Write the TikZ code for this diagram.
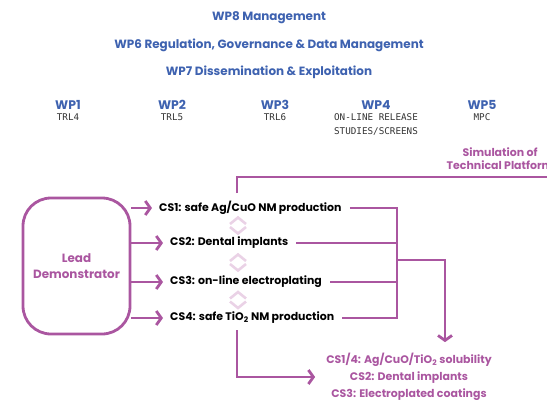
\documentclass[tikz,border=0pt]{standalone}
\usepackage{fontspec}
\setmainfont{Poppins}
\newfontfamily\trlfont{DejaVu Sans Mono}
\usetikzlibrary{arrows.meta,positioning}

\definecolor{wpblue}{RGB}{62,98,176}
\definecolor{csviolet}{RGB}{170,86,160}
\definecolor{zigpink}{RGB}{234,210,230}

\tikzset{
  head/.style={text=wpblue, font=\bfseries\fontsize{12}{14}\selectfont},
  wp/.style={text=wpblue, inner sep=0pt, font=\bfseries\fontsize{12.5}{14}\selectfont},
  trl/.style={text=black!80, inner sep=0pt, align=center, font=\trlfont\fontsize{9.3}{13.5}\selectfont},
  cs/.style={anchor=west, inner sep=0pt, font=\bfseries\fontsize{11}{12}\selectfont},
  pinklabel/.style={text=csviolet, inner sep=0pt, align=center, font=\bfseries\fontsize{11}{13}\selectfont},
  leadbox/.style={draw=csviolet, line width=2.8bp, rounded corners=28bp, text=csviolet,
    align=center, font=\bfseries\fontsize{12}{16}\selectfont},
  flow/.style={draw=csviolet, line width=2.8bp},
  flowtip/.style={-{Straight Barb[length=5bp,width=14bp]}},
  zig/.style={draw=zigpink, line width=2.6bp},
}

\begin{document}
\begin{tikzpicture}[x=1bp, y=-1bp]
\useasboundingbox (0,0) rectangle (547,401);

% cross-cutting work packages
\node[head] (wp8) at (269,18) {WP8 Management};
\node[head] (wp6) at (269,45) {WP6 Regulation, Governance \& Data Management};
\node[head] (wp7) at (269,72) {WP7 Dissemination \& Exploitation};

% work packages along the TRL scale
\node[wp] (wp1) at (68,105) {WP1};
\node[wp] (wp2) at (172,105) {WP2};
\node[wp] (wp3) at (275,105) {WP3};
\node[wp] (wp4) at (376,105) {WP4};
\node[wp] (wp5) at (482,105) {WP5};
\node[trl, below=4bp of wp1] (trl1) {TRL4};
\node[trl, below=4bp of wp2] (trl2) {TRL5};
\node[trl, below=4bp of wp3] (trl3) {TRL6};
\node[trl, below=4bp of wp4] (trl4) {ON-LINE RELEASE\\STUDIES/SCREENS};
\node[trl, below=4bp of wp5] (trl5) {MPC};

\node[pinklabel] (sim) at (500,159) {Simulation of\\Technical Platform};

% demonstrator and case studies
\node[leadbox, minimum width=107bp, minimum height=136bp] (lead) at (76.5,266) {Lead\\Demonstrator};

\node[cs] (cs1) at (159,208) {CS1: safe Ag/CuO NM production};
\node[cs] (cs2) at (170,243) {CS2: Dental implants};
\node[cs] (cs3) at (170,282) {CS3: on-line electroplating};
\node[cs] (cs4) at (170,318) {CS4: safe TiO\textsubscript{2} NM production};

\node[pinklabel, font=\bfseries\fontsize{11}{17}\selectfont] (results) at (409,377)
  {CS1/4: Ag/CuO/TiO\textsubscript{2} solubility\\CS2: Dental implants\\CS3: Electroplated coatings};

\coordinate (tap) at (237,0);
\coordinate (bar) at (397,260);
\coordinate (drop) at (445,260);
\coordinate (simrail) at (560,177);

\foreach \c in {cs1,cs2,cs3,cs4}
  \draw[flow, flowtip, shorten >=7bp] (lead.east |- \c.west) -- (\c.west);

% links between the case studies
\foreach \y in {225.5,262.5,300} {
  \draw[zig] (230,\y-1.5) -- (238,\y-8) -- (246,\y-1.5);
  \draw[zig] (230,\y+1.5) -- (238,\y+8) -- (246,\y+1.5);
}

% collect CS1-CS4 into the results
\draw[flow] ([xshift=8bp]cs1.east) -| (bar |- cs4.east) -- ([xshift=8bp]cs4.east);
\draw[flow] ([xshift=8bp]cs2.east) -- (bar |- cs2.east);
\draw[flow] ([xshift=8bp]cs3.east) -- (bar |- cs3.east);
\draw[flow, flowtip, shorten >=11bp] (bar) -- (drop) -- (drop |- results.north);

\draw[flow] ([yshift=8bp]cs1.north -| tap) |- (simrail);
\draw[flow, flowtip, shorten <=6bp, shorten >=11bp] (cs4.south -| tap) |- (results.west);
\end{tikzpicture}
\end{document}
